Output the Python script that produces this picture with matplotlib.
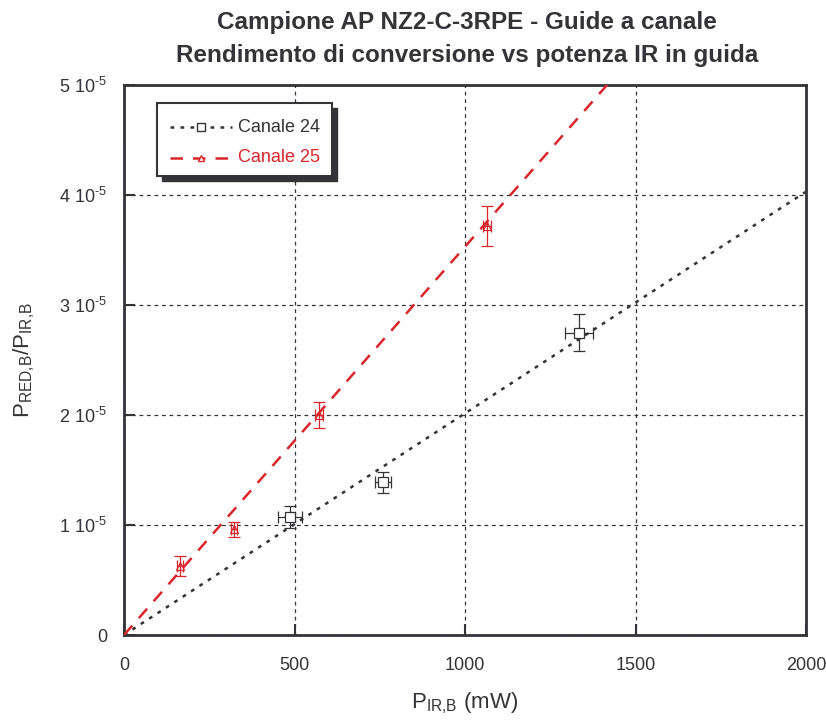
import matplotlib
matplotlib.use("Agg")
import matplotlib.pyplot as plt
import numpy as np
from matplotlib.patches import Rectangle

plt.rcParams['font.family'] = ['Liberation Sans', 'DejaVu Sans']
plt.rcParams['mathtext.fontset'] = 'custom'
plt.rcParams['mathtext.rm'] = 'Liberation Sans'
plt.rcParams['mathtext.it'] = 'Liberation Sans'
plt.rcParams['mathtext.default'] = 'regular'

# Canale 24
x24 = [487, 760, 1334]
y24 = [1.07e-5, 1.39e-5, 2.75e-5]
xerr24 = [35, 23, 40]
yerr24 = [0.10e-5, 0.095e-5, 0.17e-5]
slope24 = 2.015e-8

# Canale 25
x25 = [164, 323, 572, 1065]
y25 = [0.627e-5, 0.96e-5, 2.00e-5, 3.72e-5]
xerr25 = [10, 8, 12, 12]
yerr25 = [0.09e-5, 0.07e-5, 0.12e-5, 0.18e-5]
slope25 = 3.53e-8

xticks = [0, 500, 1000, 1500, 2000]
yticks = [0, 1e-5, 2e-5, 3e-5, 4e-5, 5e-5]
yticklabels = ['0', r'1 10$^{\text{-}5}$', r'2 10$^{\text{-}5}$', r'3 10$^{\text{-}5}$',
               r'4 10$^{\text{-}5}$', r'5 10$^{\text{-}5}$']

black = '#333338'
red = '#d9262b'

fig = plt.figure(figsize=(8.26, 7.2), dpi=100)
ax = fig.add_axes([124/826, 85/720, 682/826, 550/720])
ax.set_xlim(0, 2000)
ax.set_ylim(0, 5e-5)

xl = np.array([0, 2000])
ax.plot(xl, slope24 * xl, ls=(0, (1.5, 2.5)), color=black, lw=1.8, zorder=3)
ax.plot(xl, slope25 * xl, ls=(0, (5, 4)), color=red, lw=1.8, zorder=3)

ax.errorbar(x24, y24, xerr=xerr24, yerr=yerr24, fmt='s', ms=7, mfc='white', mec=black,
            ecolor=black, elinewidth=0.9, capsize=4, capthick=0.9, mew=0.9, zorder=4)
ax.errorbar(x25, y25, xerr=xerr25, yerr=yerr25, fmt='^', ms=6, mfc='none', mec=red,
            ecolor=red, elinewidth=0.9, capsize=4, capthick=0.9, mew=0.9, zorder=4)

ax.set_xticks(xticks)
ax.set_yticks(yticks)
ax.set_yticklabels(yticklabels)
ax.tick_params(direction='in', length=8, width=1.5, colors=black, labelsize=13)
ax.tick_params(axis='x', pad=16)
ax.tick_params(axis='y', pad=12)
for lab in ax.get_xticklabels() + ax.get_yticklabels():
    lab.set_color(black)
ax.grid(True, ls=(0, (3, 3)), color=black, lw=0.9)
for s in ax.spines.values():
    s.set_color(black)
    s.set_linewidth(2)

ax.set_xlabel(r'P$_{\text{IR,B}}$ (mW)', fontsize=16, color=black, labelpad=12)
ax.set_ylabel(r'P$_{\text{RED,B}}$/P$_{\text{IR,B}}$', fontsize=16, color=black, labelpad=16)

fig.text(467/826, 1 - 39/720, 'Campione AP NZ2-C-3RPE - Guide a canale\nRendimento di conversione vs potenza IR in guida',
         ha='center', va='center', fontsize=17.5, fontweight='bold', color=black, linespacing=1.55)

# legend box with shadow (in axes fraction)
def fx(px):
    return (px - 124) / 682
def fy(py):
    return (635 - py) / 550
lx0, ly0, lx1, ly1 = 157, 103, 332, 176
ax.add_patch(Rectangle((fx(lx0 + 5), fy(ly1 + 5)), fx(lx1) - fx(lx0), fy(ly0) - fy(ly1),
                       transform=ax.transAxes, facecolor=black, edgecolor=black, zorder=5))
ax.add_patch(Rectangle((fx(lx0), fy(ly1)), fx(lx1) - fx(lx0), fy(ly0) - fy(ly1),
                       transform=ax.transAxes, facecolor='white', edgecolor=black, lw=1.5, zorder=6))
ax.plot([fx(170), fx(232)], [fy(127), fy(127)], transform=ax.transAxes, ls=(0, (1.5, 2.5)),
        color=black, lw=1.8, zorder=7)
ax.plot([fx(201)], [fy(127)], transform=ax.transAxes, marker='s', ms=6, mfc='white', mec=black, zorder=8)
ax.text(fx(238), fy(127), 'Canale 24', transform=ax.transAxes, va='center', ha='left',
        fontsize=13, color=black, zorder=8)
ax.plot([fx(170), fx(232)], [fy(158), fy(158)], transform=ax.transAxes, ls=(0, (5, 4)),
        color=red, lw=1.8, zorder=7)
ax.plot([fx(201)], [fy(158)], transform=ax.transAxes, marker='^', ms=5, mfc='white', mec=red, zorder=8)
ax.text(fx(238), fy(158), 'Canale 25', transform=ax.transAxes, va='center', ha='left',
        fontsize=13, color=red, zorder=8)

fig.savefig('out.png', dpi=100)
